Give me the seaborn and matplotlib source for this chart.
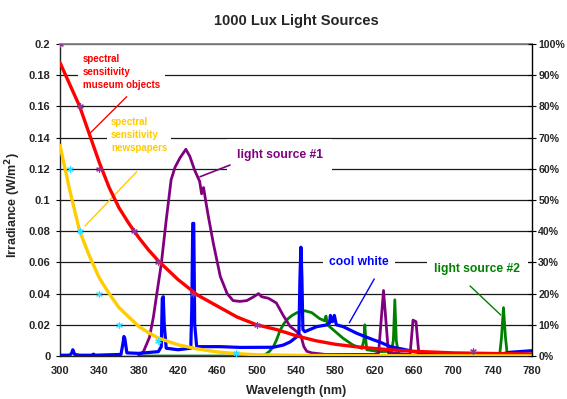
import matplotlib
matplotlib.use("Agg")
import matplotlib.pyplot as plt
import seaborn as sns
import pandas as pd

# ---- data (wavelength in nm, irradiance in W/m^2) ----
sens_museum_wl = [300, 310, 320, 330, 340, 350, 360, 370, 380, 390, 400, 420, 440, 460, 480,
                  500, 520, 540, 560, 580, 600, 620, 640, 660, 680, 700, 740, 780]
sens_museum = [0.188, 0.174, 0.160, 0.142, 0.124, 0.108, 0.095, 0.085, 0.076, 0.068, 0.061,
               0.049, 0.039, 0.032, 0.025, 0.020, 0.017, 0.013, 0.0098, 0.0075, 0.006, 0.0048,
               0.0038, 0.003, 0.0025, 0.002, 0.0016, 0.0013]

sens_news_wl = [300, 310, 320, 330, 340, 350, 360, 370, 380, 390, 400, 420, 440, 460, 480,
                500, 540, 600, 780]
sens_news = [0.135, 0.106, 0.080, 0.064, 0.050, 0.040, 0.031, 0.025, 0.019, 0.015, 0.0115,
             0.0072, 0.0045, 0.0026, 0.0015, 0.0008, 0.0004, 0.0002, 0.0001]

src1_wl = [380, 385, 391, 395, 398, 403, 408, 413, 417, 422, 428, 432, 437, 442, 444, 446, 448,
           451, 456, 463, 470, 476, 483, 490, 497, 502, 505, 512, 520, 527, 534, 540, 545, 548,
           551, 556, 570, 620, 624, 629, 634, 656, 659, 662, 665, 680, 780]
src1 = [0.0, 0.003, 0.012, 0.025, 0.038, 0.059, 0.087, 0.113, 0.121, 0.127, 0.1325, 0.128,
        0.119, 0.112, 0.104, 0.108, 0.100, 0.089, 0.072, 0.051, 0.040, 0.0355, 0.035, 0.0355,
        0.038, 0.040, 0.038, 0.037, 0.034, 0.026, 0.019, 0.016, 0.013, 0.006, 0.003, 0.002,
        0.001, 0.001, 0.002, 0.042, 0.002, 0.001, 0.023, 0.022, 0.001, 0.0005, 0.0005]

cool_wl = [300, 310, 312, 313, 315, 320, 333, 334, 335, 362, 364, 365, 366, 368, 380, 400, 403,
           404, 405, 406, 408, 420, 433, 434, 435, 436, 437, 439, 463, 483, 517, 527, 534, 541,
           543, 544, 545, 546, 547, 549, 561, 571, 574, 575, 577, 579, 581, 588, 602, 619, 625,
           636, 653, 659, 676, 710, 747, 758, 780]
cool = [0.0005, 0.0005, 0.002, 0.004, 0.001, 0.0005, 0.0005, 0.0012, 0.0005, 0.001, 0.008,
        0.0125, 0.011, 0.002, 0.0017, 0.0028, 0.006, 0.037, 0.038, 0.02, 0.005, 0.004, 0.005,
        0.03, 0.085, 0.085, 0.02, 0.006, 0.006, 0.0055, 0.0056, 0.007, 0.009, 0.0124, 0.015,
        0.05, 0.0697, 0.05, 0.017, 0.0156, 0.0188, 0.0199, 0.021, 0.026, 0.022, 0.026, 0.020,
        0.0188, 0.0145, 0.0103, 0.009, 0.006, 0.0038, 0.0028, 0.0017, 0.0013, 0.001, 0.0024,
        0.0034]

src2_wl = [380, 505, 509, 513, 517, 520, 524, 528, 532, 536, 541, 549, 556, 564, 569, 570.5,
           572, 578, 588, 598, 607, 609, 610, 611, 612, 625, 637, 639, 640.5, 642, 644, 648,
           747, 749, 751, 753, 755, 780]
src2 = [0.0, 0.0, 0.001, 0.003, 0.006, 0.010, 0.0167, 0.021, 0.024, 0.026, 0.0278, 0.029,
        0.0278, 0.024, 0.0226, 0.0256, 0.020, 0.0167, 0.0113, 0.007, 0.0049, 0.01, 0.020, 0.01,
        0.004, 0.0028, 0.003, 0.01, 0.036, 0.01, 0.002, 0.0, 0.0, 0.012, 0.031, 0.012, 0.0, 0.0]

pts_museum_wl = [300, 320, 340, 375, 400, 435, 500, 720]
pts_museum = [0.2, 0.16, 0.12, 0.08, 0.06, 0.04, 0.02, 0.003]
pts_news_wl = [310, 320, 340, 360, 400, 479]
pts_news = [0.12, 0.08, 0.04, 0.02, 0.0095, 0.002]

x_ticks = list(range(300, 781, 40))
y_ticks = [0, 0.02, 0.04, 0.06, 0.08, 0.1, 0.12, 0.14, 0.16, 0.18, 0.2]
y_tick_labels = ["0", "0.02", "0.04", "0.06", "0.08", "0.1", "0.12", "0.14", "0.16", "0.18", "0.2"]
pct_ticks = [i / 10 for i in range(11)]
pct_labels = [f"{i * 10}%" for i in range(11)]

RED, GOLD, PURPLE, BLUE, GREEN = "#FF0000", "#FFCC00", "#800080", "#0000FF", "#008000"

sns.set_theme(style="white")
plt.rcParams["font.family"] = ["Liberation Sans", "DejaVu Sans"]
plt.rcParams["font.weight"] = "bold"

fig = plt.figure(figsize=(5.67, 3.99), dpi=100)
ax = fig.add_axes([60 / 567, 43 / 399, 472 / 567, 312 / 399])
ax.set_facecolor("white")

def series(wl, val):
    return pd.DataFrame({"wl": wl, "val": val})

common = dict(x="wl", y="val", ax=ax, estimator=None, sort=False, legend=False)
sns.lineplot(data=series(src2_wl, src2), color=GREEN, lw=2.0, zorder=3, **common)
sns.lineplot(data=series(src1_wl, src1), color=PURPLE, lw=2.0, zorder=3.1, **common)
sns.lineplot(data=series(cool_wl, cool), color=BLUE, lw=2.3, zorder=3.2, **common)
sns.lineplot(data=series(sens_museum_wl, sens_museum), color=RED, lw=2.4, zorder=3.3, **common)
sns.lineplot(data=series(sens_news_wl, sens_news), color=GOLD, lw=2.4, zorder=3.4, **common)

star = (6, 2, 0)
sns.scatterplot(data=series(pts_museum_wl, pts_museum), x="wl", y="val", ax=ax, marker=star,
                color="#993399", s=16, linewidth=0.9, zorder=3.5, legend=False)
sns.scatterplot(data=series(pts_news_wl, pts_news), x="wl", y="val", ax=ax, marker=star,
                color="#33DDFF", s=16, linewidth=0.9, zorder=3.5, legend=False)

ax.set_xlim(300, 780)
ax.set_ylim(0, 0.2)
ax.set_xticks(x_ticks)
ax.set_xticklabels([str(t) for t in x_ticks], fontsize=8, fontweight="bold")
ax.set_yticks(y_ticks)
ax.set_yticklabels(y_tick_labels, fontsize=8, fontweight="bold")
ax.yaxis.grid(True, color="#1a1a1a", lw=0.9, zorder=1)
ax.xaxis.grid(False)
ax.set_axisbelow(True)
ax.tick_params(axis="both", direction="out", length=3, width=0.8, color="black", pad=4)
for side in ("left", "bottom"):
    ax.spines[side].set_color("#222222")
    ax.spines[side].set_linewidth(1.0)
ax.spines["top"].set_color("#808080")
ax.spines["top"].set_linewidth(1.3)
ax.spines["right"].set_visible(False)

ax.set_xlabel("Wavelength (nm)", fontsize=9, fontweight="bold", labelpad=7)
ax.set_ylabel("Irradiance (W/m$^\\mathbf{2}$)", fontsize=9, fontweight="bold")
ax.yaxis.set_label_coords(-0.079, 0.485)
ax.set_title("1000 Lux Light Sources", fontsize=10.5, fontweight="bold", pad=14)

ax2 = ax.twinx()
ax2.set_ylim(0, 1)
ax2.set_yticks(pct_ticks)
ax2.set_yticklabels(pct_labels, fontsize=7.6, fontweight="bold")
ax2.tick_params(axis="y", direction="inout", length=6, width=0.8, color="black", pad=1.5)
for side in ("left", "top", "bottom"):
    ax2.spines[side].set_visible(False)
ax2.spines["right"].set_color("black")
ax2.spines["right"].set_linewidth(1.0)
ax2.grid(False)

box = lambda p: dict(boxstyle=f"square,pad={p}", facecolor="white", edgecolor="none")

ax.text(323.4, 0.1822, "spectral\nsensitivity\nmuseum objects", color=RED, fontsize=7,
        fontweight="bold", ha="left", va="center", linespacing=1.35, bbox=box(0.5), zorder=2)
ax.text(351.9, 0.1417, "spectral\nsensitivity\nnewspapers", color=GOLD, fontsize=7,
        fontweight="bold", ha="left", va="center", linespacing=1.35, bbox=box(0.4), zorder=2)
ax.text(479.7, 0.1288, "light source #1", color=PURPLE, fontsize=8.7, fontweight="bold",
        ha="left", va="center", bbox=box(0.8), zorder=2)
ax.text(573.9, 0.0601, "cool white", color=BLUE, fontsize=8.7, fontweight="bold",
        ha="left", va="center", bbox=box(0.5), zorder=2)
ax.text(680.7, 0.0556, "light source #2", color=GREEN, fontsize=8.7, fontweight="bold",
        ha="left", va="center", bbox=box(0.6), zorder=2)

def leader(p0, p1, color, lw=1.0):
    ax.annotate("", xy=p1, xytext=p0,
                arrowprops=dict(arrowstyle="-", color=color, lw=lw, shrinkA=0, shrinkB=0),
                zorder=2.5)

leader((367.8, 0.1662), (330.5, 0.1428), RED)
leader((378.0, 0.1181), (325.4, 0.0833), GOLD)
leader((472.9, 0.1224), (442.4, 0.1149), PURPLE, 1.2)
leader((619.6, 0.0494), (594.2, 0.0213), BLUE)
leader((717.0, 0.0449), (748.2, 0.0263), GREEN)

fig.savefig("out.png", dpi=100, facecolor="white")
